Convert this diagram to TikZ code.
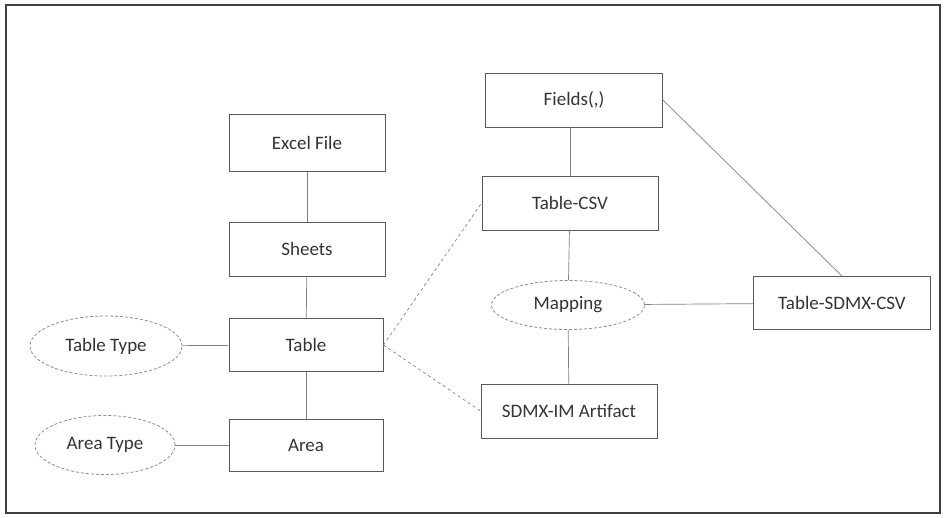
\documentclass[tikz,border=0pt]{standalone}
\usepackage{fontspec}
\setmainfont{Carlito}
\usetikzlibrary{shapes.geometric}

\tikzset{
  box/.style={draw=black!65, line width=0.8pt, minimum height=54pt, inner sep=0pt},
  attr/.style={ellipse, draw=black!45, densely dashed, line width=0.8pt, inner sep=0pt},
  link/.style={draw=black!50, line width=0.7pt},
  dlink/.style={link, dashed}
}

\begin{document}
\begin{tikzpicture}[x=1pt, y=-1pt, every node/.style={font=\fontsize{19}{22}\selectfont, text=black!80}]
      \useasboundingbox (0,0) rectangle (944,517);
      \draw[black!75, line width=1.3pt] (6,5) rectangle (940,513);

      % left column
      \node[box, minimum width=156pt, minimum height=57pt] (excel) at (307,143) {Excel File};
      \node[box, minimum width=156pt] (sheets) at (307,249) {Sheets};
      \node[box, minimum width=154pt, minimum height=53pt] (table) at (306,345) {Table};
      \node[box, minimum width=154pt, minimum height=52pt] (area) at (306,445) {Area};
      \node[attr, minimum width=152pt, minimum height=60pt] (tabletype) at (106,346) {Table Type};
      \node[attr, minimum width=140pt, minimum height=59pt] (areatype) at (105,445) {Area Type};

      % right part
      \node[box, minimum width=177pt] (fields) at (574,100) {Fields(,)};
      \node[box, minimum width=176pt] (tablecsv) at (570,203) {Table-CSV};
      \node[attr, minimum width=153pt, minimum height=49pt] (mapping) at (568,305) {Mapping};
      \node[box, minimum width=176pt] (artifact) at (569,411) {SDMX-IM Artifact};
      \node[box, minimum width=177pt, minimum height=53pt] (sdmxcsv) at (842,303) {Table-SDMX-CSV};

      \draw[link] (excel) -- (sheets);
      \draw[link] (sheets) -- (table);
      \draw[link] (table) -- (area);
      \draw[link] (tabletype) -- (table);
      \draw[link] (areatype) -- (area);
      \draw[dlink] (table.east) -- (tablecsv.west);
      \draw[dlink] (table.east) -- (artifact.west);
      \draw[link] (fields.south -| tablecsv.north) -- (tablecsv.north);
      \draw[link] (tablecsv) -- (mapping);
      \draw[link] (mapping) -- (artifact);
      \draw[link] (mapping) -- (sdmxcsv);
      \draw[link] (fields.east) -- (sdmxcsv.north);
\end{tikzpicture}
\end{document}
